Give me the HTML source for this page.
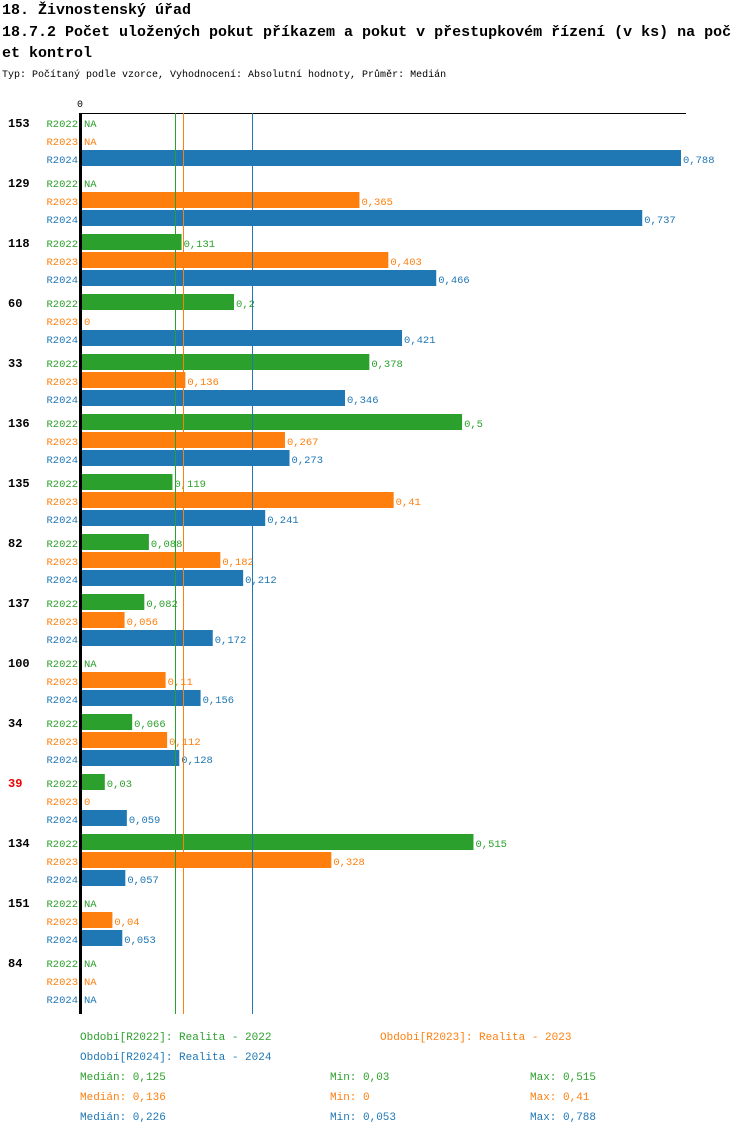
<!DOCTYPE html>
<html><head><meta charset="utf-8">
<style>
body{margin:0;background:#fff;}
svg{display:block;font-family:"Liberation Mono","DejaVu Sans Mono",monospace;}
</style></head>
<body>
<svg id="chart" width="750" height="1134">
<text x="2" y="14" font-size="15" font-weight="bold">18. Živnostenský úřad</text>
<text x="2" y="36" font-size="15" font-weight="bold">18.7.2 Počet uložených pokut příkazem a pokut v přestupkovém řízení (v ks) na poč</text>
<text x="2" y="57" font-size="15" font-weight="bold">et kontrol</text>
<text x="2" y="77" font-size="10">Typ: Počítaný podle vzorce, Vyhodnocení: Absolutní hodnoty, Průměr: Medián</text>
<text x="80" y="107" font-size="10" text-anchor="middle">0</text>
<line x1="80" y1="113.5" x2="686" y2="113.5" stroke="#000"/>
<g id="bars"></g>
<rect x="79" y="113" width="3" height="901" fill="#000"/>
<g font-size="11">
<text x="80" y="1040" fill="#2ca02c">Období[R2022]: Realita - 2022</text>
<text x="380" y="1040" fill="#ff7f0e">Období[R2023]: Realita - 2023</text>
<text x="80" y="1060" fill="#1f77b4">Období[R2024]: Realita - 2024</text>
</g>
<g id="stats" font-size="11"></g>
</svg>
<script>
const categories=["153","129","118","60","33","136","135","82","137","100","34","39","134","151","84"];
const highlighted=["39"];
const seriesNames=["R2022","R2023","R2024"];
const r2022=[null,null,0.131,0.2,0.378,0.5,0.119,0.088,0.082,null,0.066,0.03,0.515,null,null];
const r2023=[null,0.365,0.403,0,0.136,0.267,0.41,0.182,0.056,0.11,0.112,0,0.328,0.04,null];
const r2024=[0.788,0.737,0.466,0.421,0.346,0.273,0.241,0.212,0.172,0.156,0.128,0.059,0.057,0.053,null];
const medians=[0.125,0.136,0.226];
const mins=[0.03,0,0.053];
const maxs=[0.515,0.41,0.788];
const colors=["#2ca02c","#ff7f0e","#1f77b4"];
const series=[r2022,r2023,r2024];
const NS="http://www.w3.org/2000/svg";
const x0=82, scale=599/0.788;
function xs(v){return x0+v*scale;}
function rowY(g,s){return 123+g*60+s*18;}
function fmt(v){return String(v).replace('.',',');}
const gb=document.getElementById('bars');
function mk(tag,attrs,parent){const e=document.createElementNS(NS,tag);for(const k in attrs)e.setAttribute(k,attrs[k]);parent.appendChild(e);return e;}
categories.forEach((c,g)=>{
  const t=mk('text',{x:8,y:rowY(g,0)+4,'font-size':12,'font-weight':'bold',fill:highlighted.includes(c)?'#e00':'#000'},gb);
  t.textContent=c;
  
  
  series.forEach((arr,s)=>{
    const y=rowY(g,s);
    const l=mk('text',{x:78,y:y+4,'font-size':10.5,'text-anchor':'end',fill:colors[s]},gb);
    l.textContent=seriesNames[s];
    
    
    const v=arr[g];
    let endX=x0;
    if(v!==null && v>0){
      const r=mk('rect',{x:x0,y:y-9,width:xs(v)-x0,height:16,fill:colors[s]},gb);
      
      
      endX=xs(v);
    }
    const vl=mk('text',{x:endX+2,y:y+4,'font-size':10.5,fill:colors[s]},gb);
    vl.textContent=v===null?'NA':fmt(v);
    
    
  });
});
medians.forEach((m,s)=>{
  const ln=mk('line',{x1:Math.round(xs(m)-2)+0.5,x2:Math.round(xs(m)-2)+0.5,y1:113,y2:1014,stroke:colors[s],'stroke-width':1},gb);
  
  
});
const st=document.getElementById('stats');
medians.forEach((m,s)=>{
  const y=1080+s*20;
  [['Medián: ',m,80],['Min: ',mins[s],330],['Max: ',maxs[s],530]].forEach(([lab,v,x])=>{
    const t=mk('text',{x:x,y:y,fill:colors[s]},st);
    t.textContent=lab+fmt(v);
    
    
  });
});
</script>
</body></html>
